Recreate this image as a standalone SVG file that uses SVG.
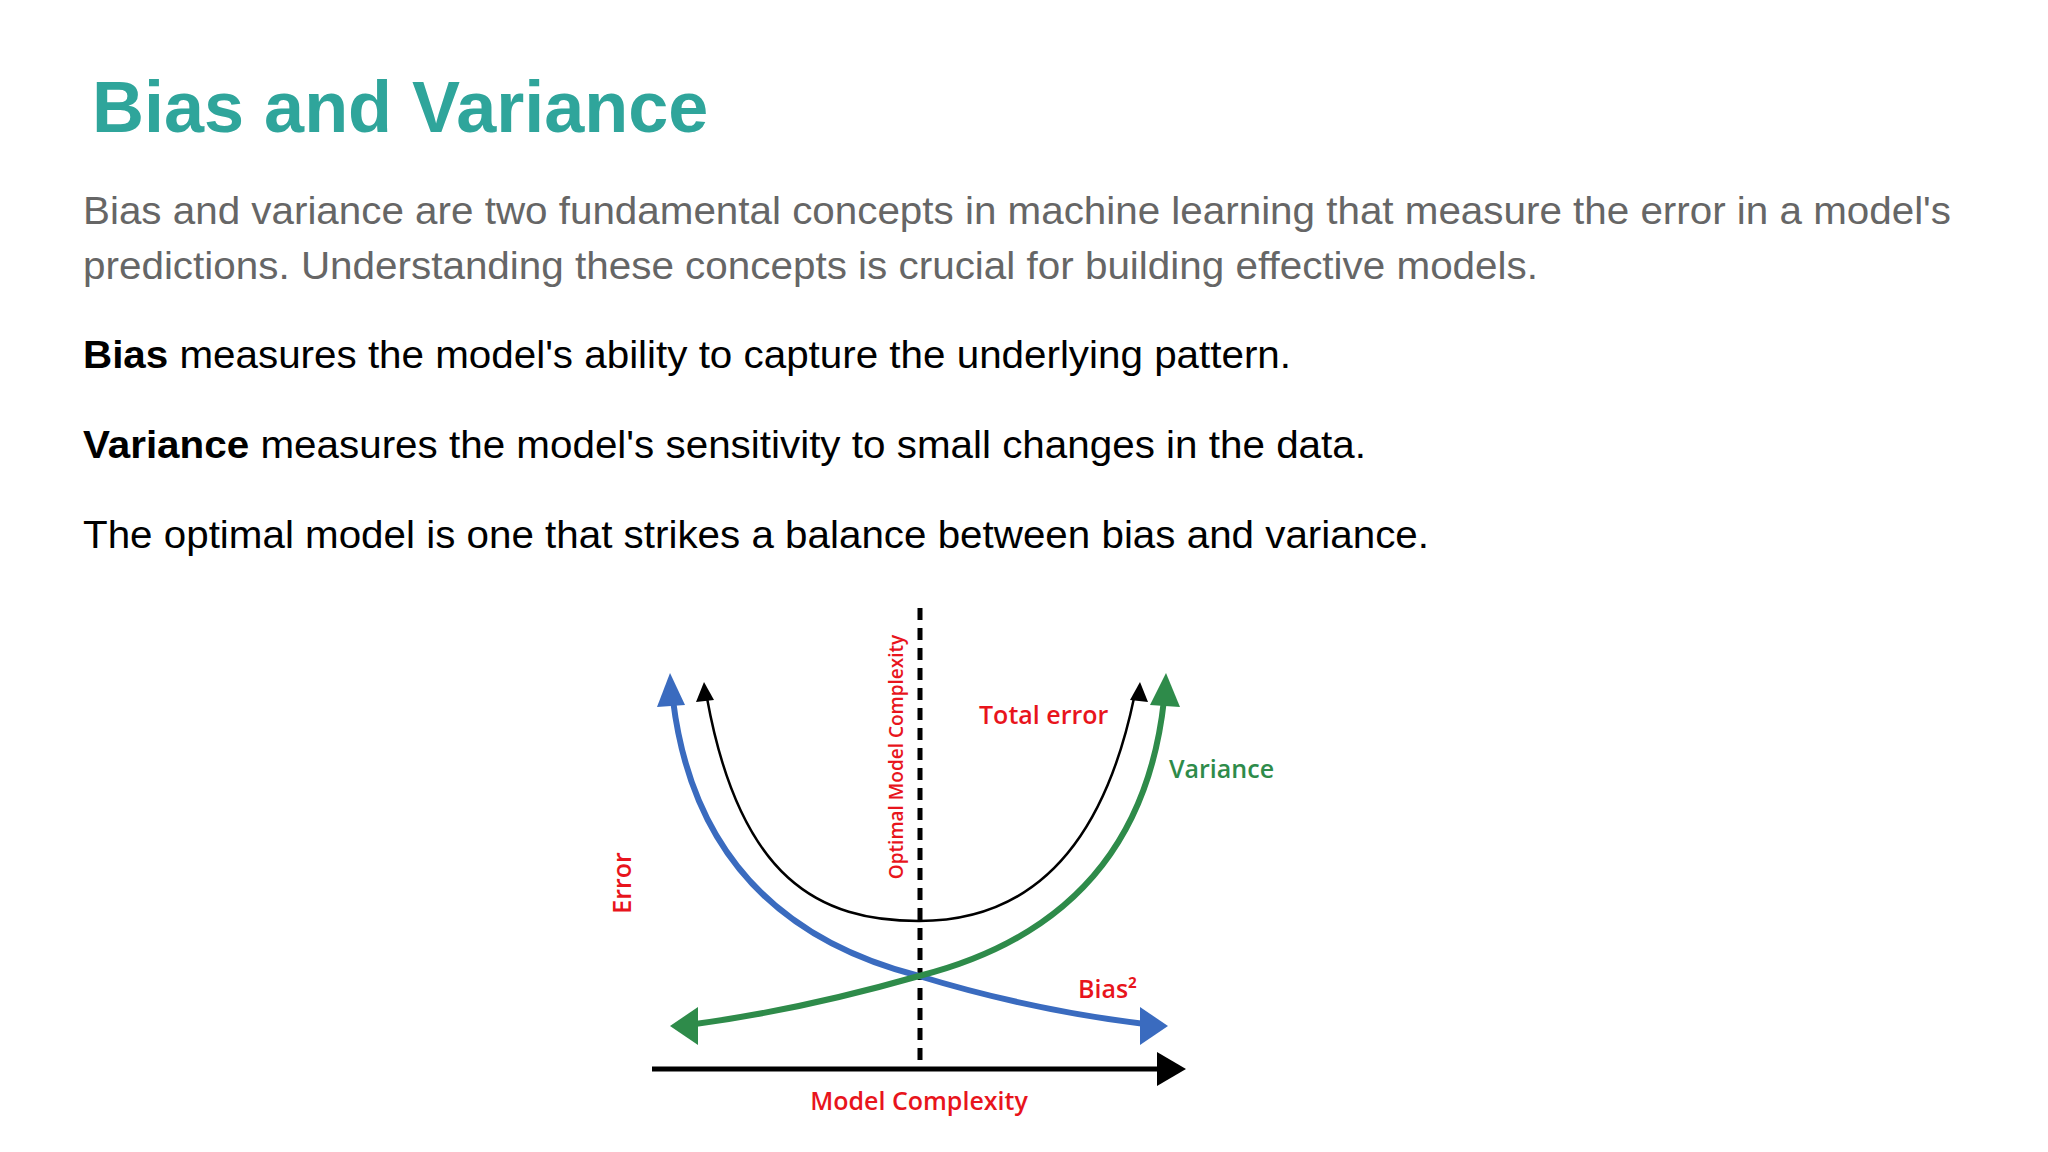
<svg xmlns="http://www.w3.org/2000/svg" width="2048" height="1152" viewBox="0 0 2048 1152">
<style>
.p{font-family:"Liberation Sans",Arial,sans-serif;font-size:38px}
.l{font-family:"Open Sans","Liberation Sans",sans-serif;font-weight:600;fill:#e8141c}
</style>
<rect width="2048" height="1152" fill="#fff"/>
<g id="title"><text x="92" y="132" font-family="Liberation Sans,Arial,sans-serif" font-weight="bold" font-size="72" fill="#2fa59b">Bias and Variance</text></g>
<g id="text">
<text class="p" x="83" y="224" fill="#666" textLength="1868" lengthAdjust="spacingAndGlyphs">Bias and variance are two fundamental concepts in machine learning that measure the error in a model's</text>
<text class="p" x="83" y="279" fill="#666" textLength="1455" lengthAdjust="spacingAndGlyphs">predictions. Understanding these concepts is crucial for building effective models.</text>
<text class="p" x="83" y="368" fill="#000" textLength="1208" lengthAdjust="spacingAndGlyphs"><tspan font-weight="bold">Bias</tspan> measures the model's ability to capture the underlying pattern.</text>
<text class="p" x="83" y="458" fill="#000" textLength="1283" lengthAdjust="spacingAndGlyphs"><tspan font-weight="bold">Variance</tspan> measures the model's sensitivity to small changes in the data.</text>
<text class="p" x="83" y="548" fill="#000" textLength="1346" lengthAdjust="spacingAndGlyphs">The optimal model is one that strikes a balance between bias and variance.</text>
</g>
<g id="connectors" fill="none">
<line x1="652" y1="1069" x2="1160" y2="1069" stroke="#000" stroke-width="5"/>
<polygon points="1186,1069 1157,1052 1157,1086" fill="#000"/>
<line x1="920" y1="608" x2="920" y2="1069" stroke="#000" stroke-width="5" stroke-dasharray="12,8"/>
<path d="M707,698 C740,880 820,921 919,921 C1020,921 1100,860 1134,698" stroke="#000" stroke-width="2.5"/>
<polygon points="704,682 696,702 714,700" fill="#000"/>
<polygon points="1140,682 1130,700 1148,702" fill="#000"/>
<path d="M673,700 Q700,920 919,976 Q1030,1010 1145,1024" stroke="#3a6bbf" stroke-width="6"/>
<polygon points="670,673 657,707 685,705" fill="#3a6bbf"/>
<polygon points="1168,1026 1140,1007 1140,1045" fill="#3a6bbf"/>
<path d="M695,1024 Q800,1010 919,976 Q1140,920 1164,700" stroke="#2e8b4a" stroke-width="6"/>
<polygon points="1166,673 1150,705 1180,707" fill="#2e8b4a"/>
<polygon points="670,1026 698,1007 698,1045" fill="#2e8b4a"/>
</g>
<g id="labels">
<text class="l" x="979" y="724" font-size="25">Total error</text>
<text class="l" x="1169" y="778" font-size="25" fill="#2e8b4a" style="fill:#2e8b4a">Variance</text>
<text class="l" x="1078" y="998" font-size="25">Bias²</text>
<text class="l" x="919" y="1110" font-size="25" text-anchor="middle">Model Complexity</text>
<text class="l" font-size="25" text-anchor="middle" transform="translate(631,883) rotate(-90)">Error</text>
<text class="l" font-size="19" text-anchor="middle" transform="translate(903,757) rotate(-90)">Optimal Model Complexity</text>
</g>
</svg>
